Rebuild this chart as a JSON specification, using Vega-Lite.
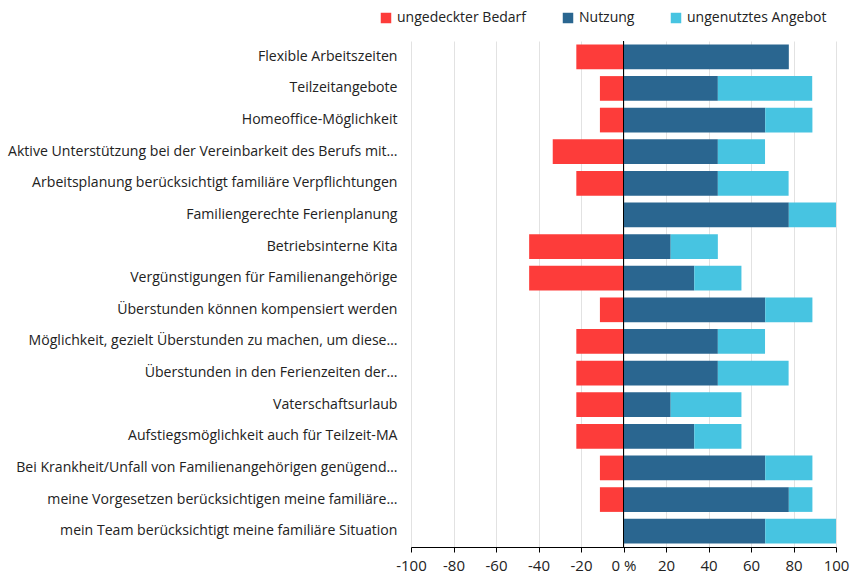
{
  "$schema": "https://vega.github.io/schema/vega-lite/v6.json",
  "width": 425,
  "height": 506,
  "autosize": {"type": "none"},
  "padding": {"left": 411, "top": 41, "right": 16, "bottom": 30},
  "config": {"view": {"stroke": null}, "font": "Open Sans"},
  "data": {
    "values": [
      {"item": "Flexible Arbeitszeiten", "group": "ungedeckter Bedarf", "value": -22.2},
      {"item": "Flexible Arbeitszeiten", "group": "Nutzung", "value": 77.8},
      {"item": "Teilzeitangebote", "group": "ungedeckter Bedarf", "value": -11.1},
      {"item": "Teilzeitangebote", "group": "Nutzung", "value": 44.4},
      {"item": "Teilzeitangebote", "group": "ungenutztes Angebot", "value": 44.4},
      {"item": "Homeoffice-Möglichkeit", "group": "ungedeckter Bedarf", "value": -11.1},
      {"item": "Homeoffice-Möglichkeit", "group": "Nutzung", "value": 66.7},
      {"item": "Homeoffice-Möglichkeit", "group": "ungenutztes Angebot", "value": 22.2},
      {"item": "Aktive Unterstützung bei der Vereinbarkeit des Berufs mit…", "group": "ungedeckter Bedarf", "value": -33.3},
      {"item": "Aktive Unterstützung bei der Vereinbarkeit des Berufs mit…", "group": "Nutzung", "value": 44.4},
      {"item": "Aktive Unterstützung bei der Vereinbarkeit des Berufs mit…", "group": "ungenutztes Angebot", "value": 22.2},
      {"item": "Arbeitsplanung berücksichtigt familiäre Verpflichtungen", "group": "ungedeckter Bedarf", "value": -22.2},
      {"item": "Arbeitsplanung berücksichtigt familiäre Verpflichtungen", "group": "Nutzung", "value": 44.4},
      {"item": "Arbeitsplanung berücksichtigt familiäre Verpflichtungen", "group": "ungenutztes Angebot", "value": 33.3},
      {"item": "Familiengerechte Ferienplanung", "group": "Nutzung", "value": 77.8},
      {"item": "Familiengerechte Ferienplanung", "group": "ungenutztes Angebot", "value": 22.2},
      {"item": "Betriebsinterne Kita", "group": "ungedeckter Bedarf", "value": -44.4},
      {"item": "Betriebsinterne Kita", "group": "Nutzung", "value": 22.2},
      {"item": "Betriebsinterne Kita", "group": "ungenutztes Angebot", "value": 22.2},
      {"item": "Vergünstigungen für Familienangehörige", "group": "ungedeckter Bedarf", "value": -44.4},
      {"item": "Vergünstigungen für Familienangehörige", "group": "Nutzung", "value": 33.3},
      {"item": "Vergünstigungen für Familienangehörige", "group": "ungenutztes Angebot", "value": 22.2},
      {"item": "Überstunden können kompensiert werden", "group": "ungedeckter Bedarf", "value": -11.1},
      {"item": "Überstunden können kompensiert werden", "group": "Nutzung", "value": 66.7},
      {"item": "Überstunden können kompensiert werden", "group": "ungenutztes Angebot", "value": 22.2},
      {"item": "Möglichkeit, gezielt Überstunden zu machen, um diese…", "group": "ungedeckter Bedarf", "value": -22.2},
      {"item": "Möglichkeit, gezielt Überstunden zu machen, um diese…", "group": "Nutzung", "value": 44.4},
      {"item": "Möglichkeit, gezielt Überstunden zu machen, um diese…", "group": "ungenutztes Angebot", "value": 22.2},
      {"item": "Überstunden in den Ferienzeiten der…", "group": "ungedeckter Bedarf", "value": -22.2},
      {"item": "Überstunden in den Ferienzeiten der…", "group": "Nutzung", "value": 44.4},
      {"item": "Überstunden in den Ferienzeiten der…", "group": "ungenutztes Angebot", "value": 33.3},
      {"item": "Vaterschaftsurlaub", "group": "ungedeckter Bedarf", "value": -22.2},
      {"item": "Vaterschaftsurlaub", "group": "Nutzung", "value": 22.2},
      {"item": "Vaterschaftsurlaub", "group": "ungenutztes Angebot", "value": 33.3},
      {"item": "Aufstiegsmöglichkeit auch für Teilzeit-MA", "group": "ungedeckter Bedarf", "value": -22.2},
      {"item": "Aufstiegsmöglichkeit auch für Teilzeit-MA", "group": "Nutzung", "value": 33.3},
      {"item": "Aufstiegsmöglichkeit auch für Teilzeit-MA", "group": "ungenutztes Angebot", "value": 22.2},
      {"item": "Bei Krankheit/Unfall von Familienangehörigen genügend…", "group": "ungedeckter Bedarf", "value": -11.1},
      {"item": "Bei Krankheit/Unfall von Familienangehörigen genügend…", "group": "Nutzung", "value": 66.7},
      {"item": "Bei Krankheit/Unfall von Familienangehörigen genügend…", "group": "ungenutztes Angebot", "value": 22.2},
      {"item": "meine Vorgesetzen berücksichtigen meine familiäre…", "group": "ungedeckter Bedarf", "value": -11.1},
      {"item": "meine Vorgesetzen berücksichtigen meine familiäre…", "group": "Nutzung", "value": 77.8},
      {"item": "meine Vorgesetzen berücksichtigen meine familiäre…", "group": "ungenutztes Angebot", "value": 11.1},
      {"item": "mein Team berücksichtigt meine familiäre Situation", "group": "Nutzung", "value": 66.7},
      {"item": "mein Team berücksichtigt meine familiäre Situation", "group": "ungenutztes Angebot", "value": 33.3}
    ]
  },
  "layer": [
    {
      "mark": {"type": "bar"},
      "encoding": {
        "y": {
          "field": "item",
          "type": "nominal",
          "sort": null,
          "scale": {"paddingInner": 0.22, "paddingOuter": 0.11},
          "axis": {
            "title": null,
            "domain": false,
            "ticks": false,
            "labelFontSize": 14.1,
            "labelColor": "#222222",
            "labelPadding": 14,
            "labelLimit": 420
          }
        },
        "x": {
          "field": "value",
          "type": "quantitative",
          "stack": "zero",
          "scale": {"domain": [-100, 100], "nice": false},
          "axis": {
            "title": null,
            "values": [-100, -80, -60, -40, -20, 0, 20, 40, 60, 80, 100],
            "grid": true,
            "gridColor": "#e2e2e2",
            "domainColor": "#000000",
            "tickColor": "#000000",
            "tickSize": 5,
            "labelFontSize": 15,
            "labelColor": "#222222",
            "labelPadding": 6,
            "labelOverlap": false,
            "labelBound": false,
            "labelFlush": false,
            "labelExpr": "datum.value == 0 ? '0 %' : '' + datum.value"
          }
        },
        "color": {
          "field": "group",
          "type": "nominal",
          "scale": {
            "domain": ["ungedeckter Bedarf", "Nutzung", "ungenutztes Angebot"],
            "range": ["#fd3c3a", "#2a6690", "#47c4e1"]
          },
          "legend": {
            "title": null,
            "orient": "none",
            "legendX": -32,
            "legendY": -30,
            "direction": "horizontal",
            "symbolType": "square",
            "symbolSize": 110,
            "symbolStrokeWidth": 0,
            "labelFontSize": 14,
            "labelColor": "#222222",
            "labelOffset": 4,
            "columnPadding": 34
          }
        }
      }
    },
    {
      "mark": {"type": "rule", "color": "#000000", "strokeWidth": 1},
      "encoding": {"x": {"datum": 0}}
    }
  ]
}
